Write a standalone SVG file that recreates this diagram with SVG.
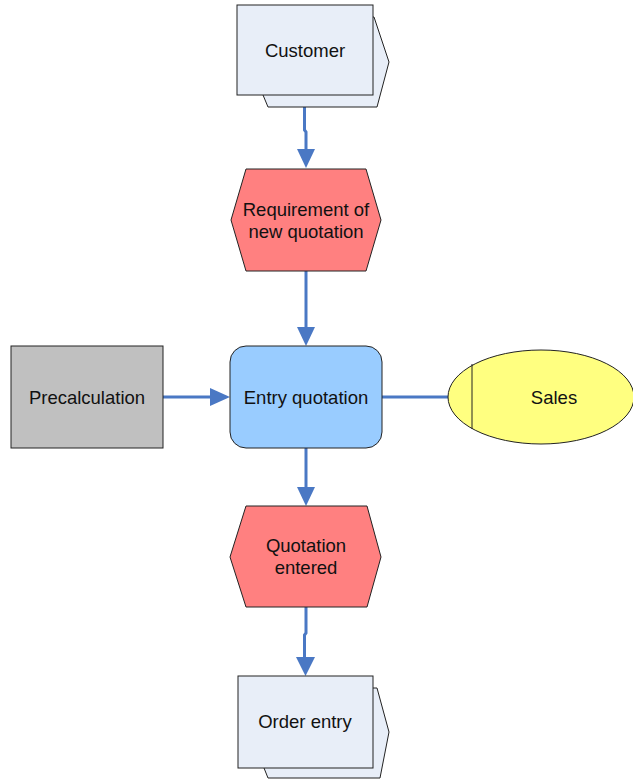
<svg xmlns="http://www.w3.org/2000/svg" width="633" height="780" viewBox="0 0 633 780">
  <style>
    .lbl { font-family: "Liberation Sans", Arial, sans-serif; font-size: 18.5px; fill: #111; text-anchor: middle; dominant-baseline: central; }
    .iface { fill: #E8EEF8; stroke: #222; stroke-width: 1; }
    .event { fill: #FF8080; stroke: #222; stroke-width: 1; }
    .func { fill: #99CCFF; stroke: #222; stroke-width: 1; }
    .info { fill: #C0C0C0; stroke: #222; stroke-width: 1; }
    .org { fill: #FFFF80; stroke: #222; stroke-width: 1; }
    .flow { stroke: #4A78C4; stroke-width: 3; fill: none; }
    .head { fill: #4A78C4; stroke: none; }
  </style>

  <g id="connectors">
    <polyline class="flow" points="304.5,95 304.5,130 306,132 306,152"/>
    <polygon class="head" points="297,149 315,149 306,168"/>
    <line class="flow" x1="306" y1="271" x2="306" y2="330"/>
    <polygon class="head" points="297,327 315,327 306,346"/>
    <line class="flow" x1="163" y1="397" x2="213" y2="397"/>
    <polygon class="head" points="210,388 210,406 230,397"/>
    <line class="flow" x1="382" y1="397" x2="449" y2="397"/>
    <line class="flow" x1="306" y1="448" x2="306" y2="490"/>
    <polygon class="head" points="297,487 315,487 306,506"/>
    <polyline class="flow" points="306,607 306,633 304.5,635 304.5,660"/>
    <polygon class="head" points="296,657 315,657 305.5,676"/>
  </g>

  <g id="customer">
    <polygon class="iface" points="263,17 374,17 389,62 377,107 268,107 263,95"/>
    <rect class="iface" x="237" y="5" width="136" height="90"/>
    <text class="lbl" x="305" y="50">Customer</text>
  </g>

  <g id="requirement">
    <polygon class="event" points="246,169 366,169 381,220 366,271 246,271 231,220"/>
    <text class="lbl" x="306" y="209">Requirement of</text>
    <text class="lbl" x="306" y="231">new quotation</text>
  </g>

  <g id="precalculation">
    <rect class="info" x="11" y="346" width="152" height="102"/>
    <text class="lbl" x="87" y="397">Precalculation</text>
  </g>

  <g id="entry-quotation">
    <rect class="func" x="230" y="346" width="152" height="102" rx="16" ry="16"/>
    <text class="lbl" x="306" y="397">Entry quotation</text>
  </g>

  <g id="sales">
    <ellipse class="org" cx="541" cy="397" rx="93" ry="47"/>
    <line x1="472" y1="364" x2="472" y2="429" stroke="#222" stroke-width="1"/>
    <text class="lbl" x="554" y="397">Sales</text>
  </g>

  <g id="quotation-entered">
    <polygon class="event" points="246,506 367,506 381,557 367,607 246,607 230,557"/>
    <text class="lbl" x="306" y="545">Quotation</text>
    <text class="lbl" x="306" y="567">entered</text>
  </g>

  <g id="order-entry">
    <polygon class="iface" points="264,688 377,688 389,732 380,778 268,778 264,768"/>
    <rect class="iface" x="238" y="676" width="135" height="92"/>
    <text class="lbl" x="305" y="721">Order entry</text>
  </g>
</svg>
